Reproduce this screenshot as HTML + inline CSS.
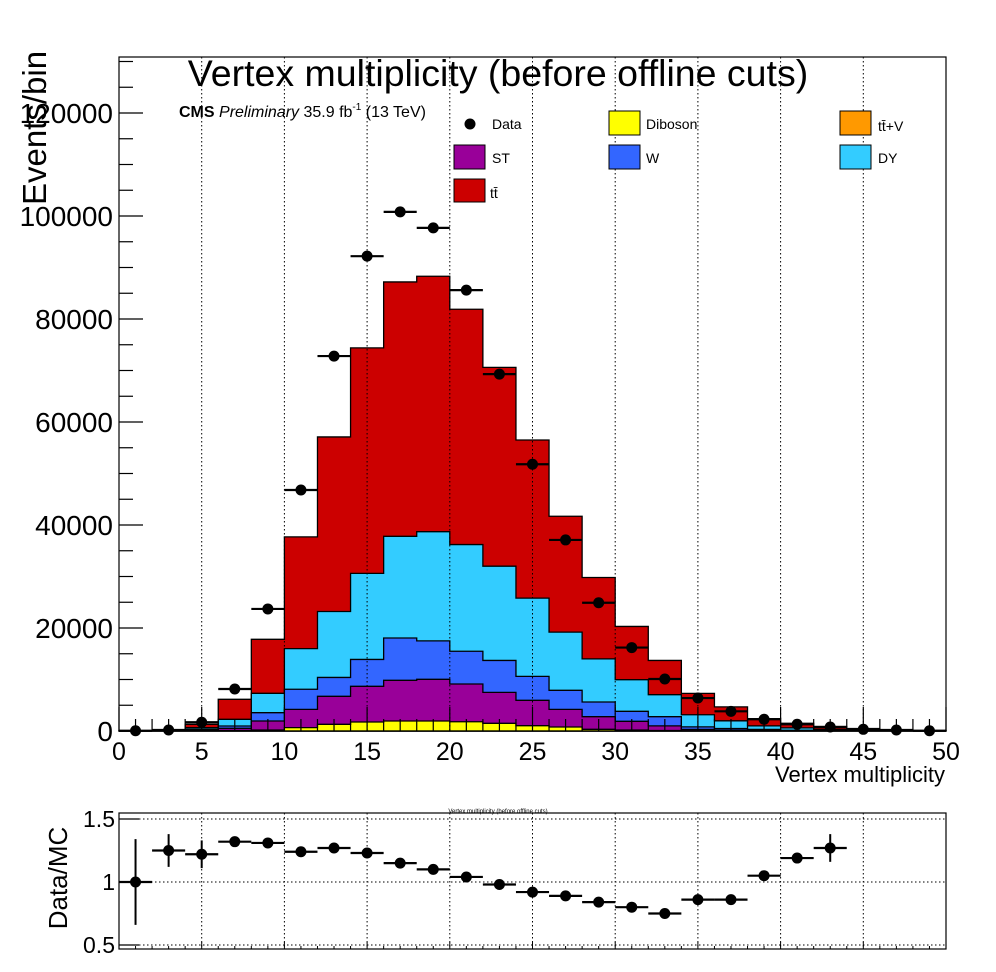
<!DOCTYPE html>
<html><head><meta charset="utf-8"><style>
body{margin:0;background:#fff;}
svg{display:block;font-family:"Liberation Sans",sans-serif;}
</style></head><body>
<svg id="c" width="996" height="972" xmlns="http://www.w3.org/2000/svg">
<rect x="0" y="0" width="996" height="972" fill="#fff"/>
<g id="main"></g>
</svg>
<script>
// ----- data -----
const binEdgesStart = [0,2,4,6,8,10,12,14,16,18,20,22,24,26,28,30,32,34,36,38,40,42,44,46,48];
const diboson = [0,0,50,100,190,650,1300,1750,1940,1940,1800,1490,1030,780,330,200,100,50,30,20,10,5,0,0,0];
const st      = [0,10,150,420,1750,3550,5440,6930,7900,8100,7330,6010,4930,3420,2450,1680,900,250,150,80,40,20,10,0,0];
const wjets   = [0,10,150,450,1620,3900,3660,5220,8220,7460,6350,6200,4640,3700,2850,1940,1780,500,300,200,100,50,20,10,0];
const dy      = [10,50,300,1300,3760,7900,12800,16700,19740,21200,20720,18300,15200,11300,8370,6140,4270,2360,1500,700,450,250,150,80,30];
const ttbar   = [20,80,650,3880,10480,21700,33900,43800,49400,49600,45700,38600,30700,22500,15800,10340,6650,4140,2710,1390,910,550,300,150,70];
const dataVals= [50,200,1700,8150,23700,46800,72800,92200,100800,97700,85600,69300,51800,37100,24900,16200,10100,6400,3820,2270,1300,780,330,200,50];
const ratioX  = [1,3,5,7,9,11,13,15,17,19,21,23,25,27,29,31,33,35,37,39,41,43];
const ratioVals=[1.0,1.25,1.22,1.32,1.31,1.24,1.27,1.23,1.15,1.10,1.04,0.98,0.92,0.89,0.84,0.80,0.75,0.86,0.86,1.05,1.19,1.27];
const ratioErrs=[0.34,0.13,0.11,0.04,0.02,0.02,0.02,0.01,0.01,0.01,0.01,0.01,0.01,0.01,0.01,0.01,0.01,0.01,0.01,0.03,0.04,0.11];
const yTicks = [0,20000,40000,60000,80000,100000,120000];
const xTicks = [0,5,10,15,20,25,30,35,40,45,50];
const rTicks = [0.5,1,1.5];
const rTickLabels = ["0.5","1","1.5"];

// ----- axes -----
const X0=119, X1=946, Y0=731, YT=57;
const xs = v => X0 + v*(X1-X0)/50;
const ys = v => Y0 - v*0.00515;
const RY0=949, RYT=813;
const rys = v => 882 - (v-1)*126;

const NS="http://www.w3.org/2000/svg";
const g=document.getElementById('main');
function mk(tag, attrs, parent){const e=document.createElementNS(NS,tag);for(const k in attrs)e.setAttribute(k,attrs[k]);(parent||g).appendChild(e);return e;}

const layers=[["diboson",diboson,"#ffff00"],["st",st,"#990099"],["wjets",wjets,"#3366ff"],["dy",dy,"#33ccff"],["ttbar",ttbar,"#cc0000"]];
const cum = binEdgesStart.map(()=>0);
const tops=[];
layers.forEach(L=>{
  const top = cum.map((c,i)=>c+L[1][i]);
  tops.push([L[0],cum.slice(),top,L[2]]);
  for(let i=0;i<cum.length;i++) cum[i]=top[i];
});
for(let k=tops.length-1;k>=0;k--){
  const [name,bot,top,col]=tops[k];
  let d="M"+xs(0)+","+Y0;
  binEdgesStart.forEach((s,i)=>{d+=" L"+xs(s)+","+ys(top[i])+" L"+xs(s+2)+","+ys(top[i]);});
  d+=" L"+xs(50)+","+Y0+" Z";
  const p=mk('path',{d:d,fill:col,stroke:'#000','stroke-width':1.3});
  
  
}

xTicks.forEach(t=>{ if(t>0&&t<50){
  const l1=mk('line',{x1:xs(t),x2:xs(t),y1:YT,y2:Y0,stroke:'#000','stroke-width':1,'stroke-dasharray':'1.5,2.5'});
  
  
  const l2=mk('line',{x1:xs(t),x2:xs(t),y1:RYT,y2:RY0,stroke:'#000','stroke-width':1,'stroke-dasharray':'1.5,2.5'});
  
  
}});
rTicks.forEach(t=>{
  const l=mk('line',{x1:X0,x2:X1,y1:rys(t),y2:rys(t),stroke:'#000','stroke-width':1,'stroke-dasharray':'1.5,2.5'});
  
  
});

const f1=mk('rect',{x:X0,y:YT,width:X1-X0,height:Y0-YT,fill:'none',stroke:'#000','stroke-width':1.2});


const f2=mk('rect',{x:X0,y:RYT,width:X1-X0,height:RY0-RYT,fill:'none',stroke:'#000','stroke-width':1.2});



for(let v=0; v<=130000; v+=5000){
  const major = v%20000===0;
  const t=mk('line',{x1:X0,x2:X0+(major?24:14),y1:ys(v),y2:ys(v),stroke:'#000','stroke-width':1.2});
  
  
}
yTicks.forEach(v=>{
  const t=mk('text',{x:X0-6,y:ys(v)+10,'text-anchor':'end','font-size':28});
  t.textContent=String(v);
  
  
});
for(let v=0; v<=50; v+=1){
  const major=v%5===0;
  const t=mk('line',{x1:xs(v),x2:xs(v),y1:Y0,y2:Y0-(major?24:12),stroke:'#000','stroke-width':1.2});
  
  
  const t2=mk('line',{x1:xs(v),x2:xs(v),y1:RY0,y2:RY0-(major?7:3),stroke:'#000','stroke-width':1});
  
  
}
xTicks.forEach(v=>{
  const t=mk('text',{x:xs(v),y:Y0+29,'text-anchor':'middle','font-size':25});
  t.textContent=String(v);
  
  
});
rTicks.forEach((v,i)=>{
  const l=mk('line',{x1:X0,x2:X0+20,y1:rys(v),y2:rys(v),stroke:'#000','stroke-width':1.2});
  
  
  const t=mk('text',{x:X0-4,y:rys(v)+8,'text-anchor':'end','font-size':23});
  t.textContent=rTickLabels[i];
  
  
});

binEdgesStart.forEach((s,i)=>{
  const cx=xs(s+1), cy=ys(dataVals[i]);
  const e=mk('line',{x1:xs(s),x2:xs(s+2),y1:cy,y2:cy,stroke:'#000','stroke-width':2.2});
  
  
  const c=mk('circle',{cx:cx,cy:cy,r:5.5,fill:'#000'});
  
  
});
ratioX.forEach((x,i)=>{
  const cy=rys(ratioVals[i]);
  const e=mk('line',{x1:xs(x-1),x2:xs(x+1),y1:cy,y2:cy,stroke:'#000','stroke-width':2.2});
  
  
  const ey=mk('line',{x1:xs(x),x2:xs(x),y1:rys(ratioVals[i]+ratioErrs[i]),y2:rys(ratioVals[i]-ratioErrs[i]),stroke:'#000','stroke-width':2});
  
  
  const c=mk('circle',{cx:xs(x),cy:cy,r:5.5,fill:'#000'});
  
  
});
</script>
<svg width="996" height="972" style="position:absolute;left:0;top:0" xmlns="http://www.w3.org/2000/svg">
<text x="498" y="86" text-anchor="middle" font-size="37.5" font-family="Liberation Sans, sans-serif">Vertex multiplicity (before offline cuts)</text>
<text transform="translate(46,128) rotate(-90)" text-anchor="middle" font-size="33" font-family="Liberation Sans, sans-serif">Events/bin</text>
<text x="945" y="782" text-anchor="end" font-size="22" font-family="Liberation Sans, sans-serif">Vertex multiplicity</text>
<text transform="translate(67,878) rotate(-90)" text-anchor="middle" font-size="26" font-family="Liberation Sans, sans-serif">Data/MC</text>
<text x="498" y="813" text-anchor="middle" font-size="6" font-family="Liberation Sans, sans-serif">Vertex multiplicity (before offline cuts)</text>
<text x="179" y="117" font-size="16" font-family="Liberation Sans, sans-serif"><tspan font-weight="bold">CMS</tspan> <tspan font-style="italic">Preliminary</tspan> 35.9 fb<tspan dy="-7" font-size="10">-1</tspan><tspan dy="7"> (13 TeV)</tspan></text>
<g font-family="Liberation Sans, sans-serif" font-size="14">
<circle cx="470" cy="124" r="5.5" fill="#000"/>
<text x="492" y="129">Data</text>
<rect x="609" y="111" width="31" height="24" fill="#ffff00" stroke="#000"/>
<text x="646" y="129">Diboson</text>
<rect x="840" y="111" width="31" height="24" fill="#ff9900" stroke="#000"/>
<text x="878" y="131">tt̄+V</text>
<rect x="454" y="145" width="31" height="24" fill="#990099" stroke="#000"/>
<text x="492" y="163">ST</text>
<rect x="609" y="145" width="31" height="24" fill="#3366ff" stroke="#000"/>
<text x="646" y="163">W</text>
<rect x="840" y="145" width="31" height="24" fill="#33ccff" stroke="#000"/>
<text x="878" y="163">DY</text>
<rect x="454" y="179" width="31" height="23" fill="#cc0000" stroke="#000"/>
<text x="490" y="198">tt̄</text>
</g>
</svg>
</body></html>
